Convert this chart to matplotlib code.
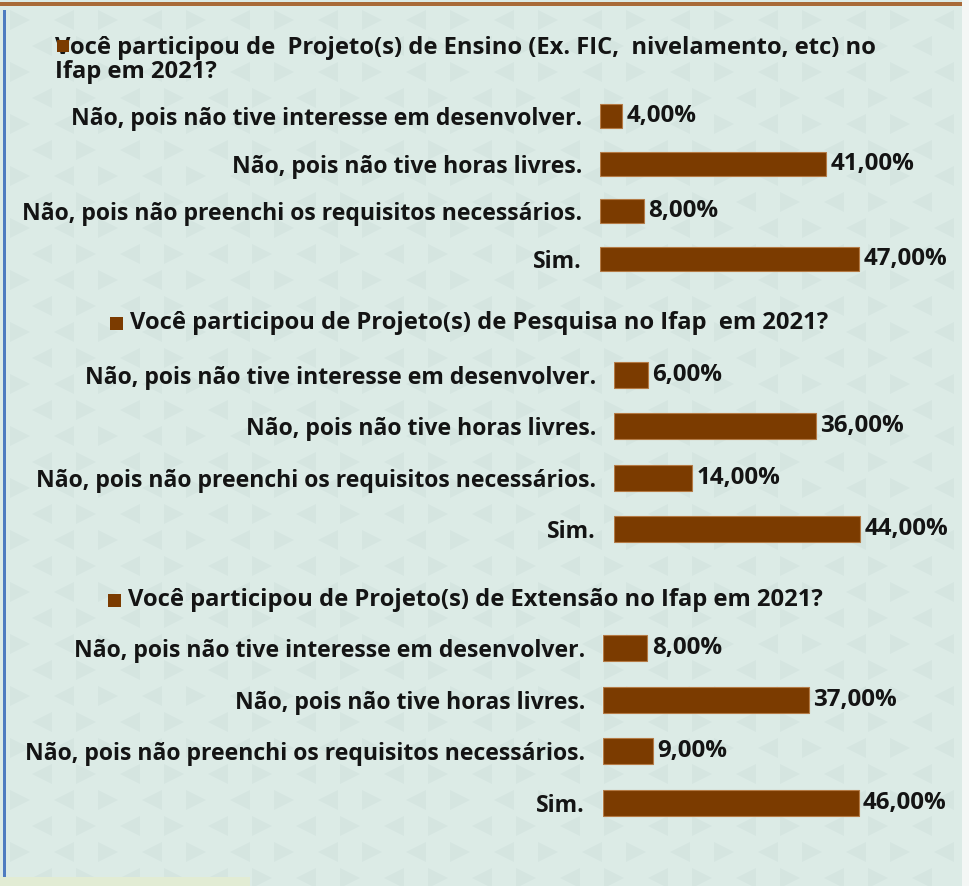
import matplotlib.pyplot as plt
from matplotlib.patches import Rectangle, Polygon

plt.rcParams['font.family'] = ['Open Sans', 'DejaVu Sans']

# dados
categorias = ['Não, pois não tive interesse em desenvolver.',
              'Não, pois não tive horas livres.',
              'Não, pois não preenchi os requisitos necessários.',
              'Sim.']
titulos = ['Você participou de  Projeto(s) de Ensino (Ex. FIC,  nivelamento, etc) no\nIfap em 2021?',
           'Você participou de Projeto(s) de Pesquisa no Ifap  em 2021?',
           'Você participou de Projeto(s) de Extensão no Ifap em 2021?']
ensino = [4, 41, 8, 47]
pesquisa = [6, 36, 14, 44]
extensao = [8, 37, 9, 46]

W, H = 970, 886
fundo = '#dcebe6'
tri_cor = '#cbddd9'
barra = '#7b3b00'
texto = '#141414'
fs = 16.6
fs_tit = 17.1

fig = plt.figure(figsize=(W / 100, H / 100), dpi=100)
fig.patch.set_facecolor('#f4f7f5')


def px(x, y, w, h):
    # retângulo em pixels (origem no canto superior esquerdo) -> fração da figura
    return [x / W, 1 - (y + h) / H, w / W, h / H]


# fundo com padrão de triângulos
fig.patches.append(Rectangle((0, 0), 962 / W, 1, transform=fig.transFigure,
                             facecolor=fundo, edgecolor='none', zorder=-10))
row = 0
for yc in range(20, 880, 26):
    off = 0 if row % 2 == 0 else 22
    col = 0
    for xc in range(20 + off, 950, 44):
        s = 10
        if (col + row) % 2 == 0:
            pts = [(xc - s, yc - s), (xc - s, yc + s), (xc + s, yc)]
        else:
            pts = [(xc + s, yc - s), (xc + s, yc + s), (xc - s, yc)]
        pts = [(a / W, 1 - b / H) for a, b in pts]
        fig.patches.append(Polygon(pts, closed=True, transform=fig.transFigure,
                                   facecolor=tri_cor, edgecolor='none', alpha=0.4, zorder=-9))
        col += 1
    row += 1

# bordas
fig.patches.append(Rectangle(px(0, 2, 962, 4)[:2], 962 / W, 4 / H, transform=fig.transFigure,
                             facecolor='#a86a38', edgecolor='none', zorder=-5))
fig.patches.append(Rectangle(px(3, 10, 3, 867)[:2], 3 / W, 867 / H, transform=fig.transFigure,
                             facecolor='#4f7cc0', edgecolor='none', zorder=-5))
fig.patches.append(Rectangle(px(0, 877, 250, 9)[:2], 250 / W, 9 / H, transform=fig.transFigure,
                             facecolor='#e2ecd4', edgecolor='none', zorder=-5))

paineis = [
    (ensino, 600, 92, 276, 191),
    (pesquisa, 614, 349, 280, 206),
    (extensao, 603, 622, 278, 207),
]

for valores, x0, y0, w, h in paineis:
    ax = fig.add_axes(px(x0, y0, w, h))
    ax.set_facecolor('none')
    ys = range(len(categorias))
    bars = ax.barh(ys, valores, height=0.5, color=barra, edgecolor='#b47a45', linewidth=0.8)
    ax.set_xlim(0, 50)
    ax.set_ylim(len(categorias) - 0.5, -0.5)
    ax.set_yticks(list(ys))
    ax.set_yticklabels(categorias, fontsize=fs, fontweight='bold', color=texto)
    ax.tick_params(axis='y', length=0, pad=13)
    ax.set_xticks([])
    for sp in ax.spines.values():
        sp.set_visible(False)
    ax.bar_label(bars, labels=[f'{v:.2f}'.replace('.', ',') + '%' for v in valores],
                 padding=3, fontsize=fs + 0.8, fontweight='bold', color=texto)

# títulos (legendas)
fig.text(55 / W, 1 - 36 / H, titulos[0], ha='left', va='top', fontsize=fs_tit,
         fontweight='bold', color=texto, linespacing=0.98)
fig.patches.append(Rectangle(px(57, 40, 12, 12)[:2], 12 / W, 12 / H, transform=fig.transFigure,
                             facecolor=barra, edgecolor='none', zorder=5))
fig.text(130 / W, 1 - 323 / H, titulos[1], ha='left', va='center', fontsize=fs_tit,
         fontweight='bold', color=texto)
fig.patches.append(Rectangle(px(110, 317, 13, 13)[:2], 13 / W, 13 / H, transform=fig.transFigure,
                             facecolor=barra, edgecolor='none'))
fig.text(128 / W, 1 - 600 / H, titulos[2], ha='left', va='center', fontsize=fs_tit,
         fontweight='bold', color=texto)
fig.patches.append(Rectangle(px(108, 594, 13, 13)[:2], 13 / W, 13 / H, transform=fig.transFigure,
                             facecolor=barra, edgecolor='none'))

fig.savefig('out.png', dpi=100, facecolor=fig.get_facecolor())
